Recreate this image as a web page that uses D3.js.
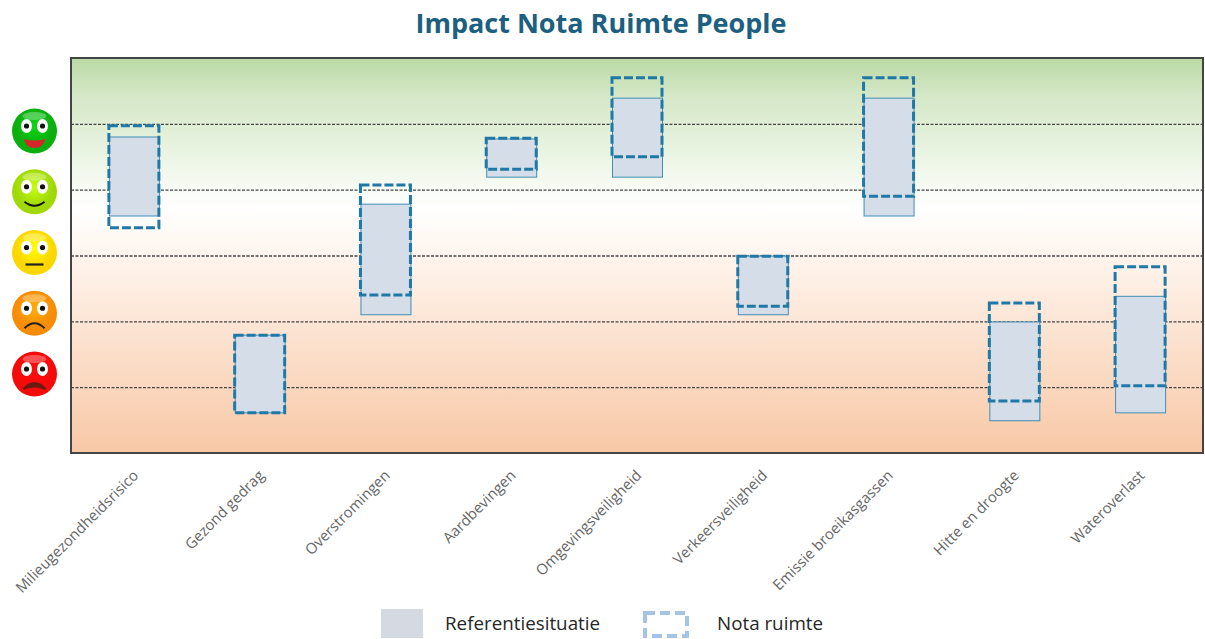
<!DOCTYPE html>
<html>
<head>
<meta charset="utf-8">
<script src="https://cdn.jsdelivr.net/npm/d3@7"></script>
<style>
  html, body { margin: 0; padding: 0; background: #fff; }
  svg { display: block; }
</style>
</head>
<body>
<div id="chart"></div>
<script>
// data, y runs from 0 to 6 (gridlines at 1..5)
var categories = ["Milieugezondheidsrisico", "Gezond gedrag", "Overstromingen", "Aardbevingen",
    "Omgevingsveiligheid", "Verkeersveiligheid", "Emissie broeikasgassen", "Hitte en droogte", "Wateroverlast"];
var refLow  = [3.60, 0.61, 2.10, 4.19, 4.19, 2.10, 3.60, 0.49, 0.61];
var refHigh = [4.80, 1.79, 3.78, 4.77, 5.39, 2.99, 5.39, 1.99, 2.38];
var notaLow  = [3.42, 0.61, 2.40, 4.31, 4.50, 2.23, 3.90, 0.79, 1.02];
var notaHigh = [4.97, 1.79, 4.07, 4.78, 5.70, 2.99, 5.70, 2.28, 2.83];
var gridLevels = [1, 2, 3, 4, 5];
var smileyMoods = ["great", "good", "neutral", "bad", "awful"];
var smileyColors = ["#0aae0f", "#a0d80a", "#fcd600", "#f88c06", "#f50a0a"];
var legendLabels = ["Referentiesituatie", "Nota ruimte"];

var svgWidth = 1205;
var svgHeight = 639;

var margin = { top: 58, right: 2, bottom: 186, left: 71 };
var chartWidth = svgWidth - margin.left - margin.right;
var chartHeight = svgHeight - margin.top - margin.bottom;

var svg = d3.select("#chart")
    .append("svg")
    .attr("width", svgWidth)
    .attr("height", svgHeight)
    .style("font-family", "'Open Sans', sans-serif");

var defs = svg.append("defs");

// background of the plot: green on top, white in the middle, peach at the bottom
var bg = defs.append("linearGradient")
    .attr("id", "bgGrad")
    .attr("x1", 0).attr("y1", 0).attr("x2", 0).attr("y2", 1);
bg.append("stop").attr("offset", "0%").attr("stop-color", "#b9d9a4");
bg.append("stop").attr("offset", "9%").attr("stop-color", "#d4e7c6");
bg.append("stop").attr("offset", "24%").attr("stop-color", "#eaf4e2");
bg.append("stop").attr("offset", "38%").attr("stop-color", "#ffffff");
bg.append("stop").attr("offset", "46%").attr("stop-color", "#fff8f3");
bg.append("stop").attr("offset", "100%").attr("stop-color", "#f8c8a6");

var xScale = d3.scaleBand()
    .domain(categories)
    .range([0, chartWidth]);

var yScale = d3.scaleLinear()
    .domain([0, 6])
    .range([chartHeight, 0]);

var chartGroup = svg.append("g")
    .attr("transform", `translate(${margin.left}, ${margin.top})`);

chartGroup.append("rect")
    .attr("width", chartWidth)
    .attr("height", chartHeight)
    .attr("fill", "url(#bgGrad)");

// dashed gridlines
var gridAxis = d3.axisLeft(yScale)
    .tickValues(gridLevels)
    .tickSize(-chartWidth)
    .tickFormat("");

var gridGroup = chartGroup.append("g").call(gridAxis);
gridGroup.select(".domain").remove();
gridGroup.selectAll("line")
    .attr("stroke", "#444")
    .attr("stroke-width", 1.4)
    .attr("stroke-dasharray", "3 1.5");

// x axis with rotated labels
var bottomAxis = d3.axisBottom(xScale).tickSize(0).tickPadding(0);

var xGroup = chartGroup.append("g")
    .attr("transform", `translate(0, ${chartHeight})`)
    .call(bottomAxis);
xGroup.select(".domain").remove();
xGroup.selectAll("text")
    .attr("font-family", "'Open Sans', sans-serif")
    .attr("font-size", 14.8)
    .attr("fill", "#666")
    .attr("text-anchor", "end")
    .attr("transform", "translate(-2, 16) rotate(-45)");

var barWidth = 50;

// reference boxes
chartGroup.selectAll(".ref")
    .data(categories)
    .enter()
    .append("rect")
    .attr("class", "ref")
    .attr("x", d => xScale(d) + xScale.bandwidth() / 2 - barWidth / 2 + 0.5)
    .attr("y", (d, i) => yScale(refHigh[i]))
    .attr("width", barWidth)
    .attr("height", (d, i) => yScale(refLow[i]) - yScale(refHigh[i]))
    .attr("fill", "#d5dde9")
    .attr("stroke", "#3f8fb5")
    .attr("stroke-width", 1);

// nota ruimte boxes
chartGroup.selectAll(".nota")
    .data(categories)
    .enter()
    .append("rect")
    .attr("class", "nota")
    .attr("x", d => xScale(d) + xScale.bandwidth() / 2 - barWidth / 2)
    .attr("y", (d, i) => yScale(notaHigh[i]))
    .attr("width", barWidth)
    .attr("height", (d, i) => yScale(notaLow[i]) - yScale(notaHigh[i]))
    .attr("fill", "none")
    .attr("stroke", "#1f78a6")
    .attr("stroke-width", 3)
    .attr("stroke-dasharray", "9 3");

// frame
chartGroup.append("rect")
    .attr("width", chartWidth)
    .attr("height", chartHeight)
    .attr("fill", "none")
    .attr("stroke", "#444")
    .attr("stroke-width", 2);

// title
svg.append("text")
    .attr("x", 601)
    .attr("y", 33)
    .attr("text-anchor", "middle")
    .attr("font-size", 27)
    .attr("font-weight", 700)
    .attr("fill", "#1d5f80")
    .text("Impact Nota Ruimte People");

// smileys down the left side
var smileyScale = d3.scalePoint()
    .domain(smileyMoods)
    .range([131, 374]);

smileyMoods.forEach(function(mood, i) {
    var grad = defs.append("radialGradient")
        .attr("id", "smiley" + i)
        .attr("cx", "50%").attr("cy", "40%").attr("r", "60%");
    grad.append("stop").attr("offset", "0%").attr("stop-color", d3.color(smileyColors[i]).brighter(0.6));
    grad.append("stop").attr("offset", "70%").attr("stop-color", smileyColors[i]);
    grad.append("stop").attr("offset", "100%").attr("stop-color", smileyColors[i]);

    var face = svg.append("g")
        .attr("transform", `translate(34.5, ${smileyScale(mood)})`);

    face.append("circle").attr("r", 22.5).attr("fill", `url(#smiley${i})`);

    // shine on the forehead
    face.append("ellipse")
        .attr("cy", -15).attr("rx", 12).attr("ry", 4)
        .attr("fill", "#fff").attr("opacity", 0.3);

    [-8, 8].forEach(function(dx) {
        face.append("ellipse").attr("cx", dx).attr("cy", -5).attr("rx", 5.5).attr("ry", 7).attr("fill", "#fff");
        face.append("circle").attr("cx", dx).attr("cy", -5).attr("r", 2.6).attr("fill", "#111");
    });

    var mouth = face.append("path");
    if (mood == "great") {
        mouth.attr("d", "M-11,8 Q0,11 11,8 Q8,17 0,17 Q-8,17 -11,8 Z").attr("fill", "#d8232a");
    } else if (mood == "good") {
        mouth.attr("d", "M-10,10 Q0,18 10,10").attr("fill", "none").attr("stroke", "#111").attr("stroke-width", 2);
    } else if (mood == "neutral") {
        mouth.attr("d", "M-9,12 L9,12").attr("fill", "none").attr("stroke", "#222").attr("stroke-width", 2.2);
    } else if (mood == "bad") {
        mouth.attr("d", "M-10,15 Q0,5 10,15").attr("fill", "none").attr("stroke", "#222").attr("stroke-width", 2);
    } else {
        mouth.attr("d", "M-11,15 Q0,3 11,15 Q0,10 -11,15 Z").attr("fill", "#6b1a12").attr("stroke", "#6b1a12").attr("stroke-width", 2);
    }
});

// legend
svg.append("rect")
    .attr("x", 381).attr("y", 609)
    .attr("width", 42).attr("height", 29)
    .attr("fill", "#d5d9e2");

svg.append("text")
    .attr("x", 445).attr("y", 630)
    .attr("font-size", 18.8)
    .attr("fill", "#262626")
    .text(legendLabels[0]);

svg.append("rect")
    .attr("x", 645).attr("y", 613)
    .attr("width", 42).attr("height", 23)
    .attr("fill", "none")
    .attr("stroke", "#a3c4e4")
    .attr("stroke-width", 4)
    .attr("stroke-dasharray", "10 5");

svg.append("text")
    .attr("x", 717).attr("y", 630)
    .attr("font-size", 18.8)
    .attr("fill", "#262626")
    .text(legendLabels[1]);
</script>
</body>
</html>
